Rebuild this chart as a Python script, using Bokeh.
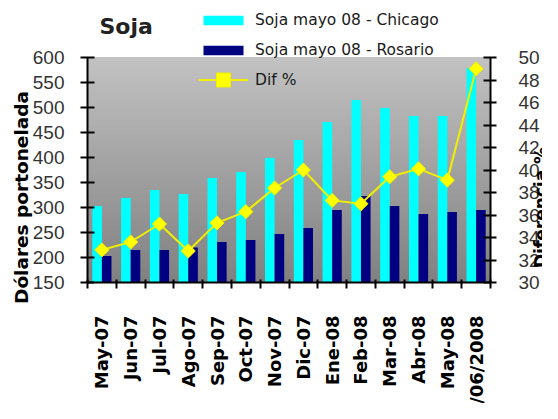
import numpy as np
from math import pi
from bokeh.plotting import figure
from bokeh.models import (Range1d, LinearAxis, FixedTicker, BoxAnnotation, Legend,
                          LegendItem, Label, LabelSet, ColumnDataSource)
from bokeh.core.properties import value
from bokeh.transform import dodge
from bokeh.embed import file_html
from bokeh.resources import INLINE

# ---------------- data ----------------
categories = ["May-07", "Jun-07", "Jul-07", "Ago-07", "Sep-07", "Oct-07", "Nov-07",
              "Dic-07", "Ene-08", "Feb-08", "Mar-08", "Abr-08", "May-08", "27/06/2008"]
chicago = [303, 319, 335, 327, 359, 371, 399, 435, 471, 515, 499, 483, 483, 579]
rosario = [203, 215, 215, 220, 231, 235, 247, 259, 295, 323, 303, 287, 291, 295]
dif_pct = [32.9, 33.6, 35.2, 32.8, 35.3, 36.3, 38.4, 40.0, 37.3, 37.0, 39.4, 40.1, 39.1, 49.0]
left_ticks = [150, 200, 250, 300, 350, 400, 450, 500, 550, 600]
right_ticks = [30, 32, 34, 36, 38, 40, 42, 44, 46, 48, 50]

# ---------------- layout (pixels) ----------------
W, H = 542, 403
PL, PR, PT, PB = 87, 490, 57, 282  # plot area edges inside the canvas

n = len(categories)
xc = [i + 0.5 for i in range(n)]
src = ColumnDataSource(dict(x=xc, cat=categories, chicago=chicago, rosario=rosario, dif=dif_pct))

# ranges chosen so that the whole canvas is the frame, plot area at PL..PR / PT..PB
xpx = (PR - PL) / n
x0, x1 = -PL / xpx, n + (W - PR) / xpx
lo, hi = left_ticks[0], left_ticks[-1]
ypx = (PB - PT) / (hi - lo)
y0, y1 = lo - (H - PB) / ypx, hi + PT / ypx
rlo, rhi = right_ticks[0], right_ticks[-1]
rpx = (PB - PT) / (rhi - rlo)
r0, r1_ = rlo - (H - PB) / rpx, rhi + PT / rpx

FONT = "DejaVu Sans"
TICKFONT = "Liberation Sans"

p = figure(width=W, height=H, x_range=Range1d(x0, x1), y_range=Range1d(y0, y1),
           x_axis_type=None, y_axis_type=None,
           output_backend="svg", toolbar_location=None,
           min_border=0, min_border_left=0, min_border_right=0, min_border_top=0, min_border_bottom=0)
p.extra_y_ranges = {"dif": Range1d(r0, r1_)}
p.xgrid.visible = False
p.ygrid.visible = False
p.outline_line_color = None
p.background_fill_color = "white"
p.border_fill_color = "white"

# gradient background of plot area (light top -> dark bottom)
nb = 90
step = (hi - lo) / nb
for k in range(nb):
    t = (k + 0.5) / nb
    g = int(round(128 + (194 - 128) * t))
    col = "#%02x%02x%02x" % (g, g, g)
    p.add_layout(BoxAnnotation(left=0, right=n, bottom=lo + k * step,
                               top=min(hi, lo + (k + 1) * step + step * 0.3),
                               fill_color=col, fill_alpha=1, line_alpha=0, level="underlay"))
# thin grey border of plot area
p.add_layout(BoxAnnotation(left=0, right=n, bottom=lo, top=hi, fill_alpha=0,
                           line_color="#808080", line_width=1, level="underlay"))

# ---------------- marks ----------------
rb1 = p.vbar(x=dodge("x", -1 / 6), width=1 / 3, top="chicago", bottom=lo, source=src,
             fill_color="#00ffff", line_color=None)
rb2 = p.vbar(x=dodge("x", 1 / 6), width=1 / 3, top="rosario", bottom=lo, source=src,
             fill_color="#000080", line_color=None)
rl = p.line("x", "dif", source=src, y_range_name="dif", line_color="#f0f000", line_width=2)
rs = p.scatter("x", "dif", source=src, y_range_name="dif", marker="square", angle=pi / 4,
               size=10, fill_color="#ffff00", line_color="#f0f000", line_width=1)

# ---------------- axes ----------------
# category axis: tick marks at the category boundaries only
xa = LinearAxis(fixed_location=lo, bounds=(0, n),
                ticker=FixedTicker(ticks=[], minor_ticks=list(range(0, n + 1))))
xa.major_tick_in = 0
xa.major_tick_out = 0
xa.minor_tick_in = 3
xa.minor_tick_out = 6
xa.minor_tick_line_color = "black"
xa.minor_tick_line_width = 2
xa.axis_line_width = 2
xa.axis_line_color = "black"
p.add_layout(xa, "below")

ya = LinearAxis(fixed_location=0, bounds=(lo, hi), ticker=FixedTicker(ticks=left_ticks))
ya.major_tick_in = 7
ya.major_tick_out = 7
ya.minor_tick_in = 0
ya.minor_tick_out = 0
ya.major_tick_line_width = 2
ya.major_tick_line_color = "black"
ya.axis_line_width = 2
ya.axis_line_color = "black"
ya.major_label_text_font = TICKFONT
ya.major_label_text_font_size = "19px"
ya.major_label_text_color = "#333333"
ya.major_label_standoff = 16
p.add_layout(ya, "left")

ra = LinearAxis(y_range_name="dif", fixed_location=n, bounds=(rlo, rhi),
                ticker=FixedTicker(ticks=right_ticks))
ra.major_tick_in = 7
ra.major_tick_out = 6
ra.minor_tick_in = 0
ra.minor_tick_out = 0
ra.major_tick_line_width = 2
ra.major_tick_line_color = "black"
ra.axis_line_width = 2
ra.axis_line_color = "black"
ra.major_label_text_font = TICKFONT
ra.major_label_text_font_size = "19px"
ra.major_label_text_color = "#333333"
ra.major_label_standoff = 22
p.add_layout(ra, "right")

# category labels, vertical, ending just under the axis
p.add_layout(LabelSet(x="x", y=lo, y_offset=-33, text="cat", source=src, angle=pi / 2,
                      text_align="right", text_baseline="middle", text_font=value(FONT),
                      text_font_style="bold", text_font_size="18px", text_color="black"))

# ---------------- legend ----------------
legend_bars = Legend(items=[LegendItem(label="Soja mayo 08 - Chicago", renderers=[rb1]),
                            LegendItem(label="Soja mayo 08 - Rosario", renderers=[rb2])],
                     location=(198, H - 59), orientation="vertical",
                     glyph_width=50, glyph_height=12, label_height=16, label_width=10,
                     label_standoff=7, spacing=12, padding=0, margin=0,
                     label_text_font=FONT, label_text_font_size="15.5px", label_text_color="#1a1a1a",
                     border_line_color=None, background_fill_alpha=0)
p.add_layout(legend_bars)
legend_line = Legend(items=[LegendItem(label="Dif %", renderers=[rl, rs])],
                     location=(198, H - 97), orientation="vertical",
                     glyph_width=50, glyph_height=35, label_height=16, label_width=10,
                     label_standoff=7, spacing=0, padding=0, margin=0,
                     label_text_font=FONT, label_text_font_size="15.5px", label_text_color="#1a1a1a",
                     border_line_color=None, background_fill_alpha=0)
p.add_layout(legend_line)

# ---------------- texts ----------------
p.add_layout(Label(x=99, y=H - 26, x_units="screen", y_units="screen", text="Soja",
                   text_font=FONT, text_font_style="bold", text_font_size="22px",
                   text_color="#222222", text_baseline="alphabetic"))
p.add_layout(Label(x=21, y=H - 197, x_units="screen", y_units="screen", text="Dólares portonelada",
                   angle=pi / 2, text_align="center", text_baseline="middle",
                   text_font=FONT, text_font_style="bold", text_font_size="18.5px", text_color="black"))
p.add_layout(Label(x=540, y=H - 207, x_units="screen", y_units="screen", text="Diferencia %",
                   angle=pi / 2, text_align="center", text_baseline="middle",
                   text_font=FONT, text_font_style="bold", text_font_size="17px", text_color="black"))

open("out.html", "w").write(file_html(p, INLINE))
